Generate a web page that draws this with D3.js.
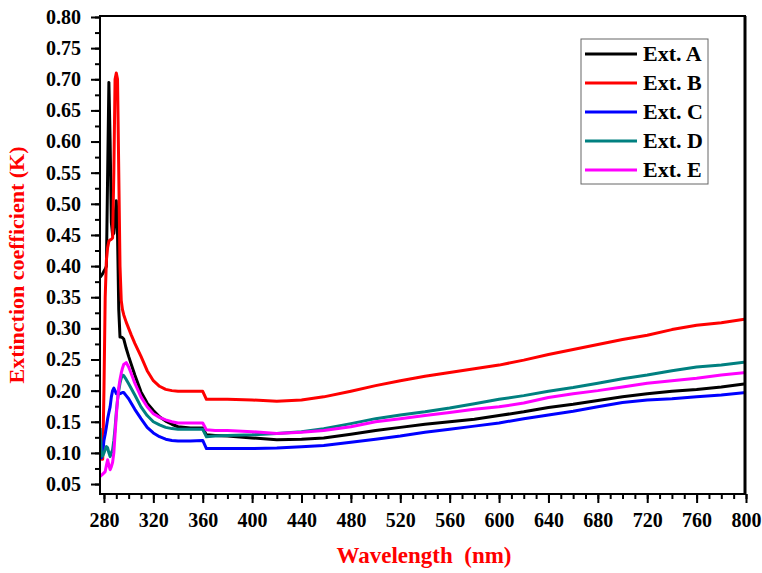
<!DOCTYPE html>
<html>
<head>
<meta charset="utf-8">
<script src="https://cdn.jsdelivr.net/npm/d3@7"></script>
<style>
  body { margin: 0; background: #fff; }
  text { font-family: "Liberation Serif", "Times New Roman", serif; font-weight: bold; }
</style>
</head>
<body>
<div id="chart"></div>
<script>
var wavelengths = [277,278,279,280,281,282,283,284,285,286,287,288,289,290,291,292,293,294,295,296,298,300,302,305,310,315,320,325,330,335,340,350,360,363,370,380,400,420,440,458,480,500,520,540,560,580,600,620,640,660,680,700,720,740,760,780,800];

var extA = [0.382,0.385,0.388,0.392,0.395,0.40,0.55,0.695,0.60,0.47,0.45,0.453,0.48,0.505,0.45,0.33,0.286,0.286,0.285,0.283,0.268,0.255,0.243,0.225,0.198,0.18,0.168,0.158,0.151,0.146,0.142,0.14,0.14,0.129,0.128,0.127,0.124,0.121,0.122,0.124,0.13,0.136,0.141,0.146,0.150,0.154,0.160,0.166,0.173,0.178,0.184,0.19,0.195,0.199,0.202,0.206,0.211];
var extB = [0.11,0.09,0.09,0.20,0.35,0.41,0.43,0.44,0.442,0.443,0.445,0.55,0.70,0.71,0.70,0.55,0.40,0.345,0.33,0.322,0.31,0.30,0.29,0.276,0.255,0.232,0.216,0.207,0.202,0.2,0.199,0.199,0.199,0.186,0.186,0.186,0.185,0.183,0.185,0.19,0.199,0.208,0.216,0.223,0.229,0.235,0.241,0.249,0.258,0.266,0.274,0.282,0.289,0.298,0.305,0.309,0.315];
var extC = [0.105,0.092,0.10,0.12,0.13,0.142,0.155,0.165,0.174,0.19,0.2,0.204,0.2,0.195,0.195,0.195,0.195,0.196,0.197,0.197,0.192,0.187,0.18,0.17,0.155,0.141,0.132,0.126,0.122,0.12,0.119,0.119,0.12,0.107,0.107,0.107,0.107,0.108,0.11,0.112,0.117,0.122,0.127,0.133,0.138,0.143,0.148,0.155,0.161,0.167,0.174,0.181,0.185,0.187,0.19,0.193,0.197];
var extD = [0.14,0.095,0.095,0.10,0.105,0.11,0.108,0.10,0.094,0.1,0.105,0.12,0.14,0.165,0.185,0.2,0.212,0.22,0.225,0.224,0.218,0.211,0.204,0.193,0.174,0.16,0.15,0.145,0.141,0.139,0.138,0.138,0.138,0.126,0.127,0.128,0.129,0.131,0.134,0.139,0.147,0.155,0.161,0.166,0.172,0.179,0.186,0.192,0.199,0.205,0.212,0.219,0.225,0.232,0.238,0.241,0.246];
var extE = [0.062,0.064,0.066,0.068,0.07,0.08,0.089,0.08,0.073,0.078,0.085,0.1,0.13,0.16,0.185,0.205,0.218,0.228,0.236,0.242,0.245,0.238,0.228,0.212,0.19,0.174,0.163,0.157,0.153,0.15,0.148,0.148,0.148,0.137,0.136,0.136,0.134,0.131,0.133,0.136,0.142,0.15,0.155,0.16,0.165,0.17,0.174,0.18,0.189,0.195,0.2,0.206,0.212,0.216,0.22,0.225,0.229];

var seriesNames = ["Ext. A", "Ext. B", "Ext. C", "Ext. D", "Ext. E"];
var seriesColors = ["#000000", "#ff0000", "#0000ff", "#008080", "#ff00ff"];
var seriesValues = [extA, extB, extC, extD, extE];

var xTicks = d3.range(280, 801, 40);
var yTicks = d3.range(0.05, 0.801, 0.05);

var width = 762, height = 573;
var plot = {left: 100, right: 746, top: 16, bottom: 494};

var svg = d3.select("#chart").append("svg")
  .attr("width", width)
  .attr("height", height);

var x = d3.scaleLinear().domain([276.8, 800]).range([plot.left, plot.right]);
var y = d3.scaleLinear().domain([0.034, 0.8016]).range([plot.bottom, plot.top]);

svg.append("clipPath").attr("id", "clip")
  .append("rect")
  .attr("x", plot.left).attr("y", plot.top)
  .attr("width", plot.right - plot.left).attr("height", plot.bottom - plot.top);

// lines
var line = d3.line()
  .x(function(d, i) { return x(wavelengths[i]); })
  .y(function(d) { return y(d); });

svg.append("g").attr("clip-path", "url(#clip)")
  .selectAll("path")
  .data(seriesValues)
  .enter().append("path")
  .attr("d", line)
  .attr("fill", "none")
  .attr("stroke", function(d, i) { return seriesColors[i]; })
  .attr("stroke-width", 3)
  .attr("stroke-linejoin", "round");

// axes, major + minor ticks
var xAxis = svg.append("g")
  .attr("transform", "translate(0," + plot.bottom + ")")
  .call(d3.axisBottom(x).tickValues(xTicks).tickSize(9).tickPadding(10).tickFormat(d3.format("d")));
svg.append("g")
  .attr("transform", "translate(0," + plot.bottom + ")")
  .call(d3.axisBottom(x).tickValues(d3.range(280, 801, 10)).tickSize(5).tickFormat(""));

var yAxis = svg.append("g")
  .attr("transform", "translate(" + plot.left + ",0)")
  .call(d3.axisLeft(y).tickValues(yTicks).tickSize(9).tickPadding(10).tickFormat(d3.format(".2f")));
svg.append("g")
  .attr("transform", "translate(" + plot.left + ",0)")
  .call(d3.axisLeft(y).tickValues(d3.range(0.05, 0.801, 0.025)).tickSize(5).tickFormat(""));

svg.selectAll(".domain").remove();
svg.selectAll(".tick line").attr("stroke", "#000").attr("stroke-width", 2);
xAxis.selectAll("text").attr("font-size", 20).attr("fill", "#000");
yAxis.selectAll("text").attr("font-size", 20).attr("fill", "#000");

// frame
svg.append("rect")
  .attr("x", plot.left).attr("y", plot.top)
  .attr("width", plot.right - 1 - plot.left).attr("height", plot.bottom - plot.top)
  .attr("fill", "none")
  .attr("stroke", "#000")
  .attr("stroke-width", 2);
svg.append("line")
  .attr("x1", plot.right - 1).attr("x2", plot.right - 1)
  .attr("y1", plot.top).attr("y2", plot.bottom)
  .attr("stroke", "#000").attr("stroke-width", 3);

// axis titles
svg.append("text")
  .attr("x", 424)
  .attr("y", 563)
  .attr("text-anchor", "middle")
  .attr("font-size", 23)
  .attr("fill", "#ff0000")
  .style("white-space", "pre")
  .text("Wavelength  (nm)");

svg.append("text")
  .attr("transform", "translate(24,265) rotate(-90)")
  .attr("text-anchor", "middle")
  .attr("font-size", 22)
  .attr("fill", "#ff0000")
  .text("Extinction coefficient (K)");

// legend
var legend = svg.append("g").attr("class", "legend");
legend.append("rect")
  .attr("x", 581).attr("y", 39)
  .attr("width", 127).attr("height", 145)
  .attr("fill", "#fff")
  .attr("stroke", "#666")
  .attr("stroke-width", 1);

legend.selectAll("g.item").data(seriesNames)
  .enter().append("g")
  .attr("class", "item")
  .each(function(d, i) {
    var g = d3.select(this);
    var yy = 54 + i * 29;
    g.append("line")
      .attr("x1", 585).attr("x2", 637)
      .attr("y1", yy).attr("y2", yy)
      .attr("stroke", seriesColors[i])
      .attr("stroke-width", 3);
    g.append("text")
      .attr("x", 643)
      .attr("y", yy + 7)
      .attr("font-size", 22)
      .attr("fill", "#000")
      .text(d);
  });
</script>
</body>
</html>
